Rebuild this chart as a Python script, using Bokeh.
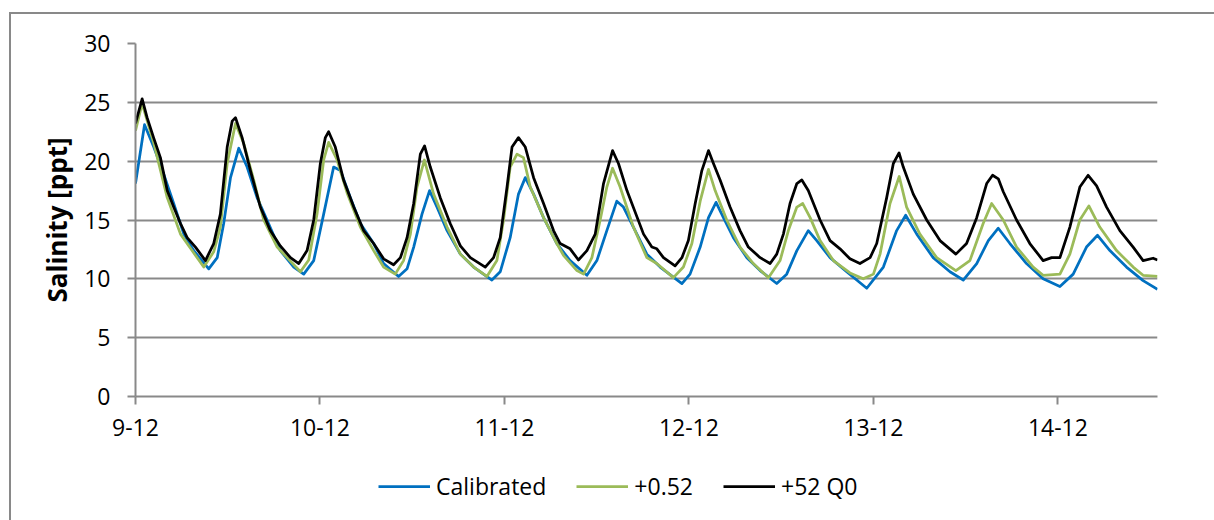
from bokeh.plotting import figure
from bokeh.layouts import column
from bokeh.models import (ColumnDataSource, FixedTicker, Legend, LegendItem,
                          Range1d)
from bokeh.embed import file_html
from bokeh.resources import INLINE

# ---- data (time in days since 9-12 00:00, salinity in ppt) ----
day_ticks = [0, 1, 2, 3, 4, 5]
day_labels = ["9-12", "10-12", "11-12", "12-12", "13-12", "14-12"]

cal_t = [0.000, 0.049, 0.099, 0.153, 0.207, 0.262, 0.316, 0.397, 0.443, 0.478,
         0.515, 0.560, 0.605, 0.659, 0.713, 0.785, 0.858, 0.912, 0.966, 1.020,
         1.074, 1.111, 1.165, 1.219, 1.291, 1.345, 1.426, 1.472, 1.508, 1.553,
         1.594, 1.634, 1.689, 1.761, 1.833, 1.932, 1.977, 2.031, 2.076, 2.113,
         2.158, 2.212, 2.284, 2.356, 2.447, 2.501, 2.555, 2.609, 2.645, 2.699,
         2.772, 2.844, 2.962, 3.006, 3.061, 3.106, 3.147, 3.187, 3.241, 3.314,
         3.386, 3.476, 3.530, 3.585, 3.647, 3.693, 3.765, 3.855, 3.964, 4.054,
         4.126, 4.175, 4.235, 4.324, 4.415, 4.487, 4.560, 4.623, 4.677, 4.740,
         4.830, 4.920, 5.011, 5.083, 5.155, 5.215, 5.282, 5.372, 5.462, 5.540]
cal_v = [18.1, 23.1, 21.2, 18.9, 16.4, 13.8, 12.4, 10.85, 11.8, 14.7,
         18.6, 21.1, 19.5, 16.9, 15.0, 12.4, 11.0, 10.4, 11.55, 15.5,
         19.5, 19.2, 16.9, 14.7, 13.0, 11.3, 10.2, 10.85, 12.7, 15.5,
         17.5, 16.1, 14.1, 12.1, 11.0, 9.9, 10.6, 13.5, 17.2, 18.6,
         17.2, 15.2, 13.0, 11.55, 10.3, 11.55, 14.1, 16.6, 16.1, 14.4,
         12.1, 11.0, 9.6, 10.4, 12.7, 15.2, 16.5, 15.2, 13.5, 11.8,
         10.7, 9.6, 10.4, 12.4, 14.1, 13.25, 11.8, 10.6, 9.2, 11.0,
         14.1, 15.4, 13.8, 11.8, 10.6, 9.9, 11.3, 13.25, 14.3, 13.0,
         11.3, 10.0, 9.35, 10.4, 12.7, 13.7, 12.4, 11.0, 9.85, 9.1]

inc_t = [0.000, 0.036, 0.098, 0.172, 0.244, 0.298, 0.370, 0.424, 0.460, 0.497,
         0.542, 0.587, 0.641, 0.695, 0.768, 0.822, 0.894, 0.939, 0.984, 1.020,
         1.047, 1.093, 1.147, 1.219, 1.291, 1.345, 1.408, 1.453, 1.490, 1.526,
         1.566, 1.616, 1.689, 1.761, 1.833, 1.905, 1.959, 1.995, 2.031, 2.068,
         2.103, 2.140, 2.212, 2.284, 2.320, 2.393, 2.429, 2.474, 2.519, 2.555,
         2.586, 2.627, 2.699, 2.772, 2.826, 2.916, 2.970, 3.016, 3.061, 3.106,
         3.142, 3.205, 3.277, 3.349, 3.431, 3.494, 3.539, 3.585, 3.617, 3.657,
         3.711, 3.783, 3.873, 3.945, 4.000, 4.036, 4.090, 4.140, 4.180, 4.252,
         4.343, 4.447, 4.523, 4.595, 4.641, 4.704, 4.776, 4.866, 4.920, 5.011,
         5.065, 5.119, 5.168, 5.227, 5.318, 5.408, 5.462, 5.540]
inc_v = [22.6, 24.9, 21.6, 16.9, 13.8, 12.6, 11.0, 12.3, 14.4, 19.8,
         23.2, 21.5, 18.4, 15.0, 12.7, 11.8, 10.6, 11.6, 15.5, 20.1,
         21.6, 20.1, 17.3, 14.4, 12.4, 11.0, 10.4, 11.55, 13.8, 17.8,
         20.1, 17.2, 14.4, 12.1, 11.0, 10.2, 11.55, 15.0, 19.5, 20.6,
         20.3, 17.8, 15.2, 13.0, 12.0, 10.7, 10.4, 11.8, 15.0, 17.8,
         19.4, 17.8, 14.4, 11.8, 11.3, 10.1, 11.0, 13.0, 16.6, 19.3,
         17.5, 15.0, 12.7, 11.3, 10.1, 11.55, 14.1, 16.1, 16.4, 15.2,
         13.25, 11.55, 10.5, 10.0, 10.4, 12.1, 16.4, 18.7, 16.1, 13.8,
         11.8, 10.7, 11.55, 14.7, 16.4, 15.0, 12.7, 11.0, 10.3, 10.4,
         12.1, 15.0, 16.2, 14.4, 12.4, 11.0, 10.3, 10.2]

q_t = [0.000, 0.036, 0.063, 0.098, 0.135, 0.172, 0.207, 0.244, 0.280, 0.325,
       0.379, 0.424, 0.460, 0.497, 0.524, 0.542, 0.578, 0.623, 0.677, 0.731,
       0.785, 0.840, 0.885, 0.930, 0.966, 1.002, 1.029, 1.047, 1.083, 1.128,
       1.183, 1.237, 1.291, 1.345, 1.399, 1.436, 1.472, 1.508, 1.544, 1.567,
       1.598, 1.652, 1.706, 1.761, 1.815, 1.896, 1.941, 1.977, 2.014, 2.041,
       2.076, 2.113, 2.158, 2.212, 2.266, 2.302, 2.356, 2.401, 2.447, 2.492,
       2.537, 2.586, 2.618, 2.664, 2.754, 2.799, 2.826, 2.862, 2.925, 2.962,
       2.997, 3.034, 3.070, 3.106, 3.133, 3.169, 3.223, 3.277, 3.322, 3.386,
       3.440, 3.476, 3.512, 3.548, 3.585, 3.612, 3.647, 3.711, 3.765, 3.819,
       3.873, 3.927, 3.982, 4.018, 4.072, 4.108, 4.139, 4.162, 4.216, 4.289,
       4.361, 4.447, 4.505, 4.560, 4.614, 4.646, 4.677, 4.704, 4.776, 4.848,
       4.920, 4.966, 5.011, 5.065, 5.119, 5.164, 5.210, 5.264, 5.336, 5.408,
       5.462, 5.516, 5.540]
q_v = [23.2, 25.3, 23.7, 22.0, 20.3, 17.5, 16.1, 14.7, 13.5, 12.7,
       11.55, 13.0, 15.5, 21.2, 23.4, 23.7, 22.0, 19.2, 16.1, 14.1,
       12.8, 11.8, 11.3, 12.4, 15.0, 19.8, 22.0, 22.5, 21.2, 18.4,
       16.1, 14.1, 13.0, 11.7, 11.2, 11.8, 13.5, 16.4, 20.6, 21.3,
       19.5, 16.9, 14.7, 12.8, 11.8, 11.0, 11.8, 13.5, 17.8, 21.2,
       22.0, 21.2, 18.6, 16.4, 14.1, 13.0, 12.55, 11.6, 12.4, 13.8,
       18.1, 20.9, 19.8, 17.5, 13.8, 12.7, 12.55, 11.8, 11.1, 11.8,
       13.25, 16.4, 19.2, 20.9, 19.8, 18.4, 16.1, 14.1, 12.7, 11.8,
       11.3, 12.1, 13.8, 16.4, 18.1, 18.4, 17.5, 15.0, 13.25, 12.55,
       11.7, 11.3, 11.8, 13.0, 16.9, 19.8, 20.7, 19.5, 17.2, 15.0,
       13.25, 12.1, 13.0, 15.2, 18.1, 18.8, 18.5, 17.4, 15.0, 13.0,
       11.55, 11.8, 11.8, 14.4, 17.8, 18.8, 17.9, 16.1, 14.1, 12.7,
       11.55, 11.75, 11.6]

series_names = ["Calibrated", "+0.52", "+52 Q0"]
series_colors = ["#0070C0", "#9BBB59", "#000000"]

FONT = "Open Sans"
GRID = "#898989"
FS = "23px"

bg_main = ("linear-gradient(#898989,#898989) 9px 12px / 2px 100% no-repeat, "
           "linear-gradient(#898989,#898989) 9px 12px / 100% 2px no-repeat, #ffffff")
bg_leg = "linear-gradient(#898989,#898989) 9px 0px / 2px 100% no-repeat, #ffffff"

# ---------------- main chart ----------------
p = figure(width=1214, height=460, output_backend="svg", toolbar_location=None,
           x_range=Range1d(0, 5.54), y_range=Range1d(0, 30),
           min_border_left=135, min_border_right=57, min_border_top=43,
           min_border_bottom=64, styles={"background": bg_main})
p.border_fill_color = None
p.outline_line_color = None
p.xgrid.grid_line_color = None
p.ygrid.grid_line_color = GRID
p.ygrid.grid_line_width = 2
p.ygrid.ticker = FixedTicker(ticks=[5, 10, 15, 20, 25, 30])

p.yaxis.ticker = FixedTicker(ticks=[0, 5, 10, 15, 20, 25, 30])
p.xaxis.ticker = FixedTicker(ticks=day_ticks)
p.xaxis.major_label_overrides = {t: l for t, l in zip(day_ticks, day_labels)}

for ax in (p.xaxis[0], p.yaxis[0]):
    ax.axis_line_color = GRID
    ax.axis_line_width = 2
    ax.major_tick_line_color = GRID
    ax.major_tick_line_width = 2
    ax.major_tick_out = 8
    ax.major_tick_in = 0
    ax.minor_tick_line_color = None
    ax.major_label_text_font = FONT
    ax.major_label_text_font_size = FS
    ax.major_label_text_color = "#000000"
p.yaxis.major_label_standoff = 17
p.xaxis.major_label_standoff = 14
p.yaxis.axis_label = "Salinity [ppt]"
p.yaxis.axis_label_text_font = FONT
p.yaxis.axis_label_text_font_style = "bold"
p.yaxis.axis_label_text_font_size = "26px"
p.yaxis.axis_label_text_color = "#000000"
p.yaxis.axis_label_standoff = 6

series = [(cal_t, cal_v), (inc_t, inc_v), (q_t, q_v)]
for (t, v), c in zip(series, series_colors):
    p.line("t", "v", source=ColumnDataSource(dict(t=t, v=v)), line_color=c,
           line_width=2.75, line_join="round")

# ---------------- legend strip ----------------
lg = figure(width=1214, height=60, output_backend="svg", toolbar_location=None,
            x_range=Range1d(0, 5.54), y_range=Range1d(100, 101),
            min_border=0, x_axis_location=None, y_axis_location=None,
            styles={"background": bg_leg})
lg.border_fill_color = None
lg.background_fill_color = None
lg.outline_line_color = None
lg.grid.visible = False
leg_renderers = []
for (t, v), c in zip(series, series_colors):
    r = lg.line("t", "v", source=ColumnDataSource(dict(t=t, v=v)), line_color=c,
                line_width=2.75)
    leg_renderers.append(r)

legend = Legend(items=[LegendItem(label=n, renderers=[r])
                       for n, r in zip(series_names, leg_renderers)],
                orientation="horizontal", location=(243, 18),
                label_text_font=FONT, label_text_font_size=FS,
                label_text_color="#000000", glyph_width=52, glyph_height=20,
                label_standoff=6, spacing=30, padding=0, margin=0,
                border_line_alpha=0, background_fill_alpha=0)
lg.add_layout(legend, "center")

layout = column(p, lg, spacing=0)
open("out.html", "w").write(file_html(layout, INLINE))
